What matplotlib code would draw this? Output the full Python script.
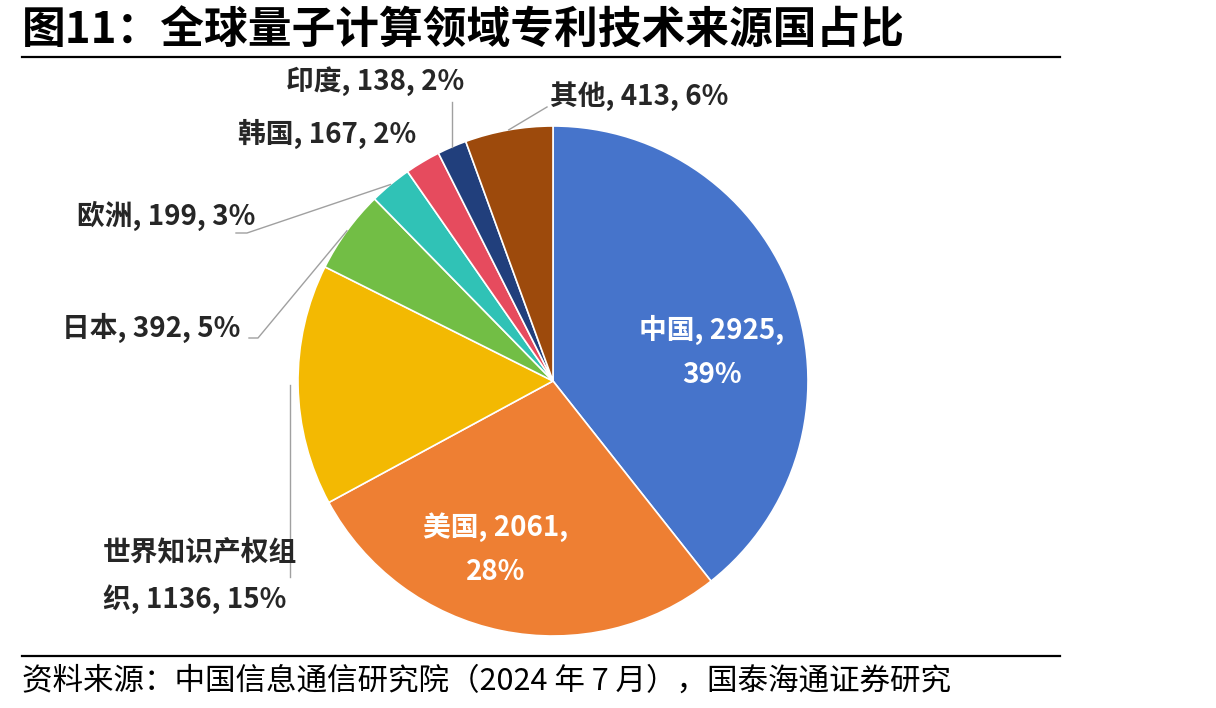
import matplotlib
matplotlib.use('Agg')
import matplotlib.pyplot as plt
from matplotlib.lines import Line2D
import numpy as np

plt.rcParams['font.family'] = ['Noto Sans CJK SC', 'DejaVu Sans']

# ---- data ----
categories = ['中国', '美国', '世界知识产权组织', '日本', '欧洲', '韩国', '印度', '其他']
values = [2925, 2061, 1136, 392, 199, 167, 138, 413]
colors = ['#4674CB', '#EE7F33', '#F3B902', '#72BE45', '#30C2B6', '#E64B5E', '#213F7C', '#9D4A0C']
title = '图11：全球量子计算领域专利技术来源国占比'
source = '资料来源：中国信息通信研究院（2024 年 7 月），国泰海通证券研究'

W, H = 1216, 708
fig = plt.figure(figsize=(W / 100, H / 100), dpi=100)
fig.patch.set_facecolor('white')

cx, cy, R = 553, 381, 255
ax = fig.add_axes([(cx - R) / W, 1 - (cy + R) / H, 2 * R / W, 2 * R / H])
wedges, _ = ax.pie(values, colors=colors, startangle=90, counterclock=False, radius=1,
                   wedgeprops=dict(edgecolor='white', linewidth=1.2))
ax.set_xlim(-1, 1)
ax.set_ylim(-1, 1)
ax.set_aspect('equal')
ax.axis('off')

total = sum(values)
labels = [f'{c}, {v}, {round(v / total * 100)}%' for c, v in zip(categories, values)]


def px2data(px, py):
    return (px - cx) / R, (cy - py) / R


def fx(px):
    return px / W


def fy(py):
    return 1 - py / H


def wedge_point(i, r=1.0):
    w = wedges[i]
    a = np.deg2rad((w.theta1 + w.theta2) / 2)
    return r * np.cos(a), r * np.sin(a)


lab_kw = dict(fontsize=20, fontweight='bold', va='center')
dark = '#262626'
lead = '#A0A0A0'
ls = 1.75

# inner labels
fig.text(fx(712), fy(352), f'{categories[0]}, {values[0]},\n{round(values[0]/total*100)}%',
         color='white', ha='center', linespacing=ls, **lab_kw)
fig.text(fx(496), fy(549), f'{categories[1]}, {values[1]},\n{round(values[1]/total*100)}%',
         color='white', ha='center', linespacing=ls, **lab_kw)

# WIPO wrapped label
wipo = categories[2]
fig.text(fx(103), fy(576), f'{wipo[:7]}\n{wipo[7:]}, {values[2]}, {round(values[2]/total*100)}%',
         color=dark, ha='left', linespacing=ls, **lab_kw)

# other outside labels
outside = {3: (62, 328), 4: (77, 216), 5: (238, 134), 6: (286, 81), 7: (550, 96)}
for i, (px, py) in outside.items():
    fig.text(fx(px), fy(py), labels[i], color=dark, ha='left', **lab_kw)

# leader lines
def draw_path(pts):
    xs = [p[0] for p in pts]
    ys = [p[1] for p in pts]
    ax.add_line(Line2D(xs, ys, color=lead, lw=1.0, clip_on=False, zorder=5))

# WIPO: vertical line down from wedge
p = wedge_point(2, 1.03)
draw_path([p, (p[0], px2data(0, 577)[1])])
# Japan
draw_path([wedge_point(3, 1.0), px2data(258, 338), px2data(249, 338)])
# Europe
draw_path([wedge_point(4, 1.0), px2data(247, 233), px2data(236, 233)])
# India
p = wedge_point(6, 1.0)
draw_path([p, (p[0], px2data(0, 102)[1])])
# Other
draw_path([wedge_point(7, 1.0), px2data(547, 107)])

# title & rules
fig.text(fx(22), fy(31), title, fontsize=31.5, fontweight='bold', color='black', ha='left', va='center')
fig.add_artist(Line2D([fx(22), fx(1060)], [fy(57), fy(57)], color='black', lw=1.6))
fig.add_artist(Line2D([fx(22), fx(1060)], [fy(656), fy(656)], color='black', lw=1.6))
fig.text(fx(22), fy(681), source, fontsize=22, color='black', ha='left', va='center')

fig.savefig('out.png', dpi=100, facecolor='white')
